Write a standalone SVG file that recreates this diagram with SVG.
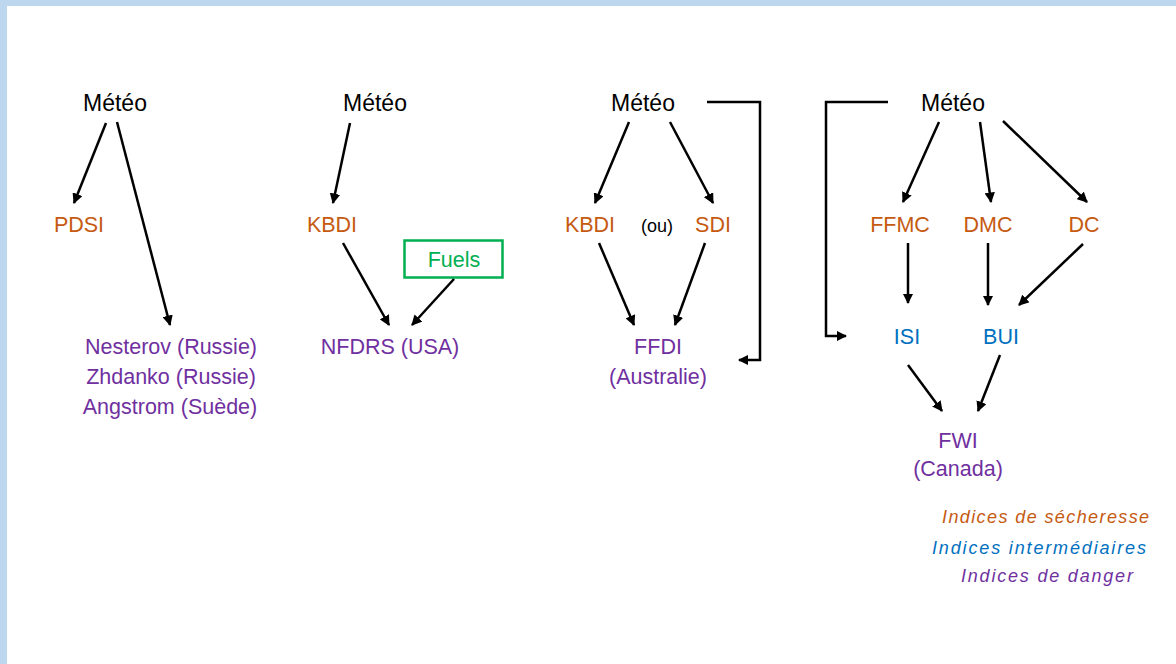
<svg xmlns="http://www.w3.org/2000/svg" width="1176" height="664" viewBox="0 0 1176 664">
<defs>
<style>
text{font-family:"Liberation Sans",Arial,sans-serif;font-size:21.5px;text-anchor:middle}
.m{font-size:23px}
.k{fill:#000}.o{fill:#c55a11}.p{fill:#7030a0}.b{fill:#0070c0}.g{fill:#00b050}
.lg{font-size:18px;font-style:italic;letter-spacing:1.4px;text-anchor:start}
.c line,.c polyline{stroke:#000;stroke-width:2.5;fill:none;marker-end:url(#ah)}
</style>
<marker id="ah" viewBox="0 0 10 10" refX="9" refY="5" markerWidth="4.2" markerHeight="4.2" orient="auto" markerUnits="strokeWidth">
<path d="M0,0 L10,5 L0,10 z" fill="#000"/>
</marker>
</defs>
<rect width="1176" height="664" fill="#fff"/>
<rect x="0" y="0" width="1176" height="6" fill="#bdd7ee"/>
<rect x="0" y="0" width="7" height="664" fill="#bdd7ee"/>

<g id="meteo1"><text class="k m" x="115" y="111">Météo</text></g>
<g id="pdsi"><text class="o" x="79" y="232">PDSI</text></g>
<g id="russia"><text class="p" x="171" y="354">Nesterov (Russie)</text><text class="p" x="171" y="384">Zhdanko (Russie)</text><text class="p" x="170" y="414">Angstrom (Suède)</text></g>

<g id="meteo2"><text class="k m" x="375" y="111">Météo</text></g>
<g id="kbdi2"><text class="o" x="332" y="232">KBDI</text></g>
<g id="fuels"><rect x="404.5" y="240.5" width="98" height="37" fill="none" stroke="#00b050" stroke-width="2.5"/><text class="g" x="454" y="267">Fuels</text></g>
<g id="nfdrs"><text class="p" x="390" y="354">NFDRS (USA)</text></g>

<g id="meteo3"><text class="k m" x="643" y="111">Météo</text></g>
<g id="kbdi3"><text class="o" x="590" y="232">KBDI</text></g>
<g id="ou"><text class="k" x="657" y="232" style="font-size:18px">(ou)</text></g>
<g id="sdi"><text class="o" x="713" y="232">SDI</text></g>
<g id="ffdi"><text class="p" x="658" y="354">FFDI</text><text class="p" x="658" y="384">(Australie)</text></g>

<g id="meteo4"><text class="k m" x="953" y="111">Météo</text></g>
<g id="ffmc"><text class="o" x="900" y="232">FFMC</text></g>
<g id="dmc"><text class="o" x="988" y="232">DMC</text></g>
<g id="dc"><text class="o" x="1084" y="232">DC</text></g>
<g id="isi"><text class="b" x="907" y="344">ISI</text></g>
<g id="bui"><text class="b" x="1001" y="344">BUI</text></g>
<g id="fwi"><text class="p" x="958" y="448">FWI</text><text class="p" x="958" y="476">(Canada)</text></g>

<g id="legend">
<text class="lg o" x="942" y="523">Indices de sécheresse</text>
<text class="lg b" x="932" y="554" style="letter-spacing:1.85px">Indices intermédiaires</text>
<text class="lg p" x="961" y="582" style="letter-spacing:1.8px">Indices de danger</text>
</g>

<g id="connectors" class="c">
<line x1="106" y1="123" x2="74" y2="203"/>
<line x1="117" y1="122" x2="170" y2="325"/>
<line x1="350" y1="123" x2="333" y2="203"/>
<line x1="343" y1="243" x2="389" y2="325"/>
<line x1="454" y1="279" x2="412" y2="325"/>
<line x1="629" y1="122" x2="595" y2="203"/>
<line x1="670" y1="122" x2="713" y2="203"/>
<line x1="599" y1="243" x2="634" y2="325"/>
<line x1="705" y1="243" x2="675" y2="325"/>
<polyline points="707,102 760,102 760,360 739,360"/>
<polyline points="888,102 826,102 826,336 846,336"/>
<line x1="939" y1="122" x2="903" y2="202"/>
<line x1="980" y1="122" x2="991" y2="202"/>
<line x1="1003" y1="121" x2="1087" y2="202"/>
<line x1="908" y1="243" x2="908" y2="303"/>
<line x1="988" y1="243" x2="988" y2="305"/>
<line x1="1083" y1="244" x2="1019" y2="305"/>
<line x1="908" y1="365" x2="942" y2="411"/>
<line x1="1000" y1="355" x2="978" y2="411"/>
</g>
</svg>
